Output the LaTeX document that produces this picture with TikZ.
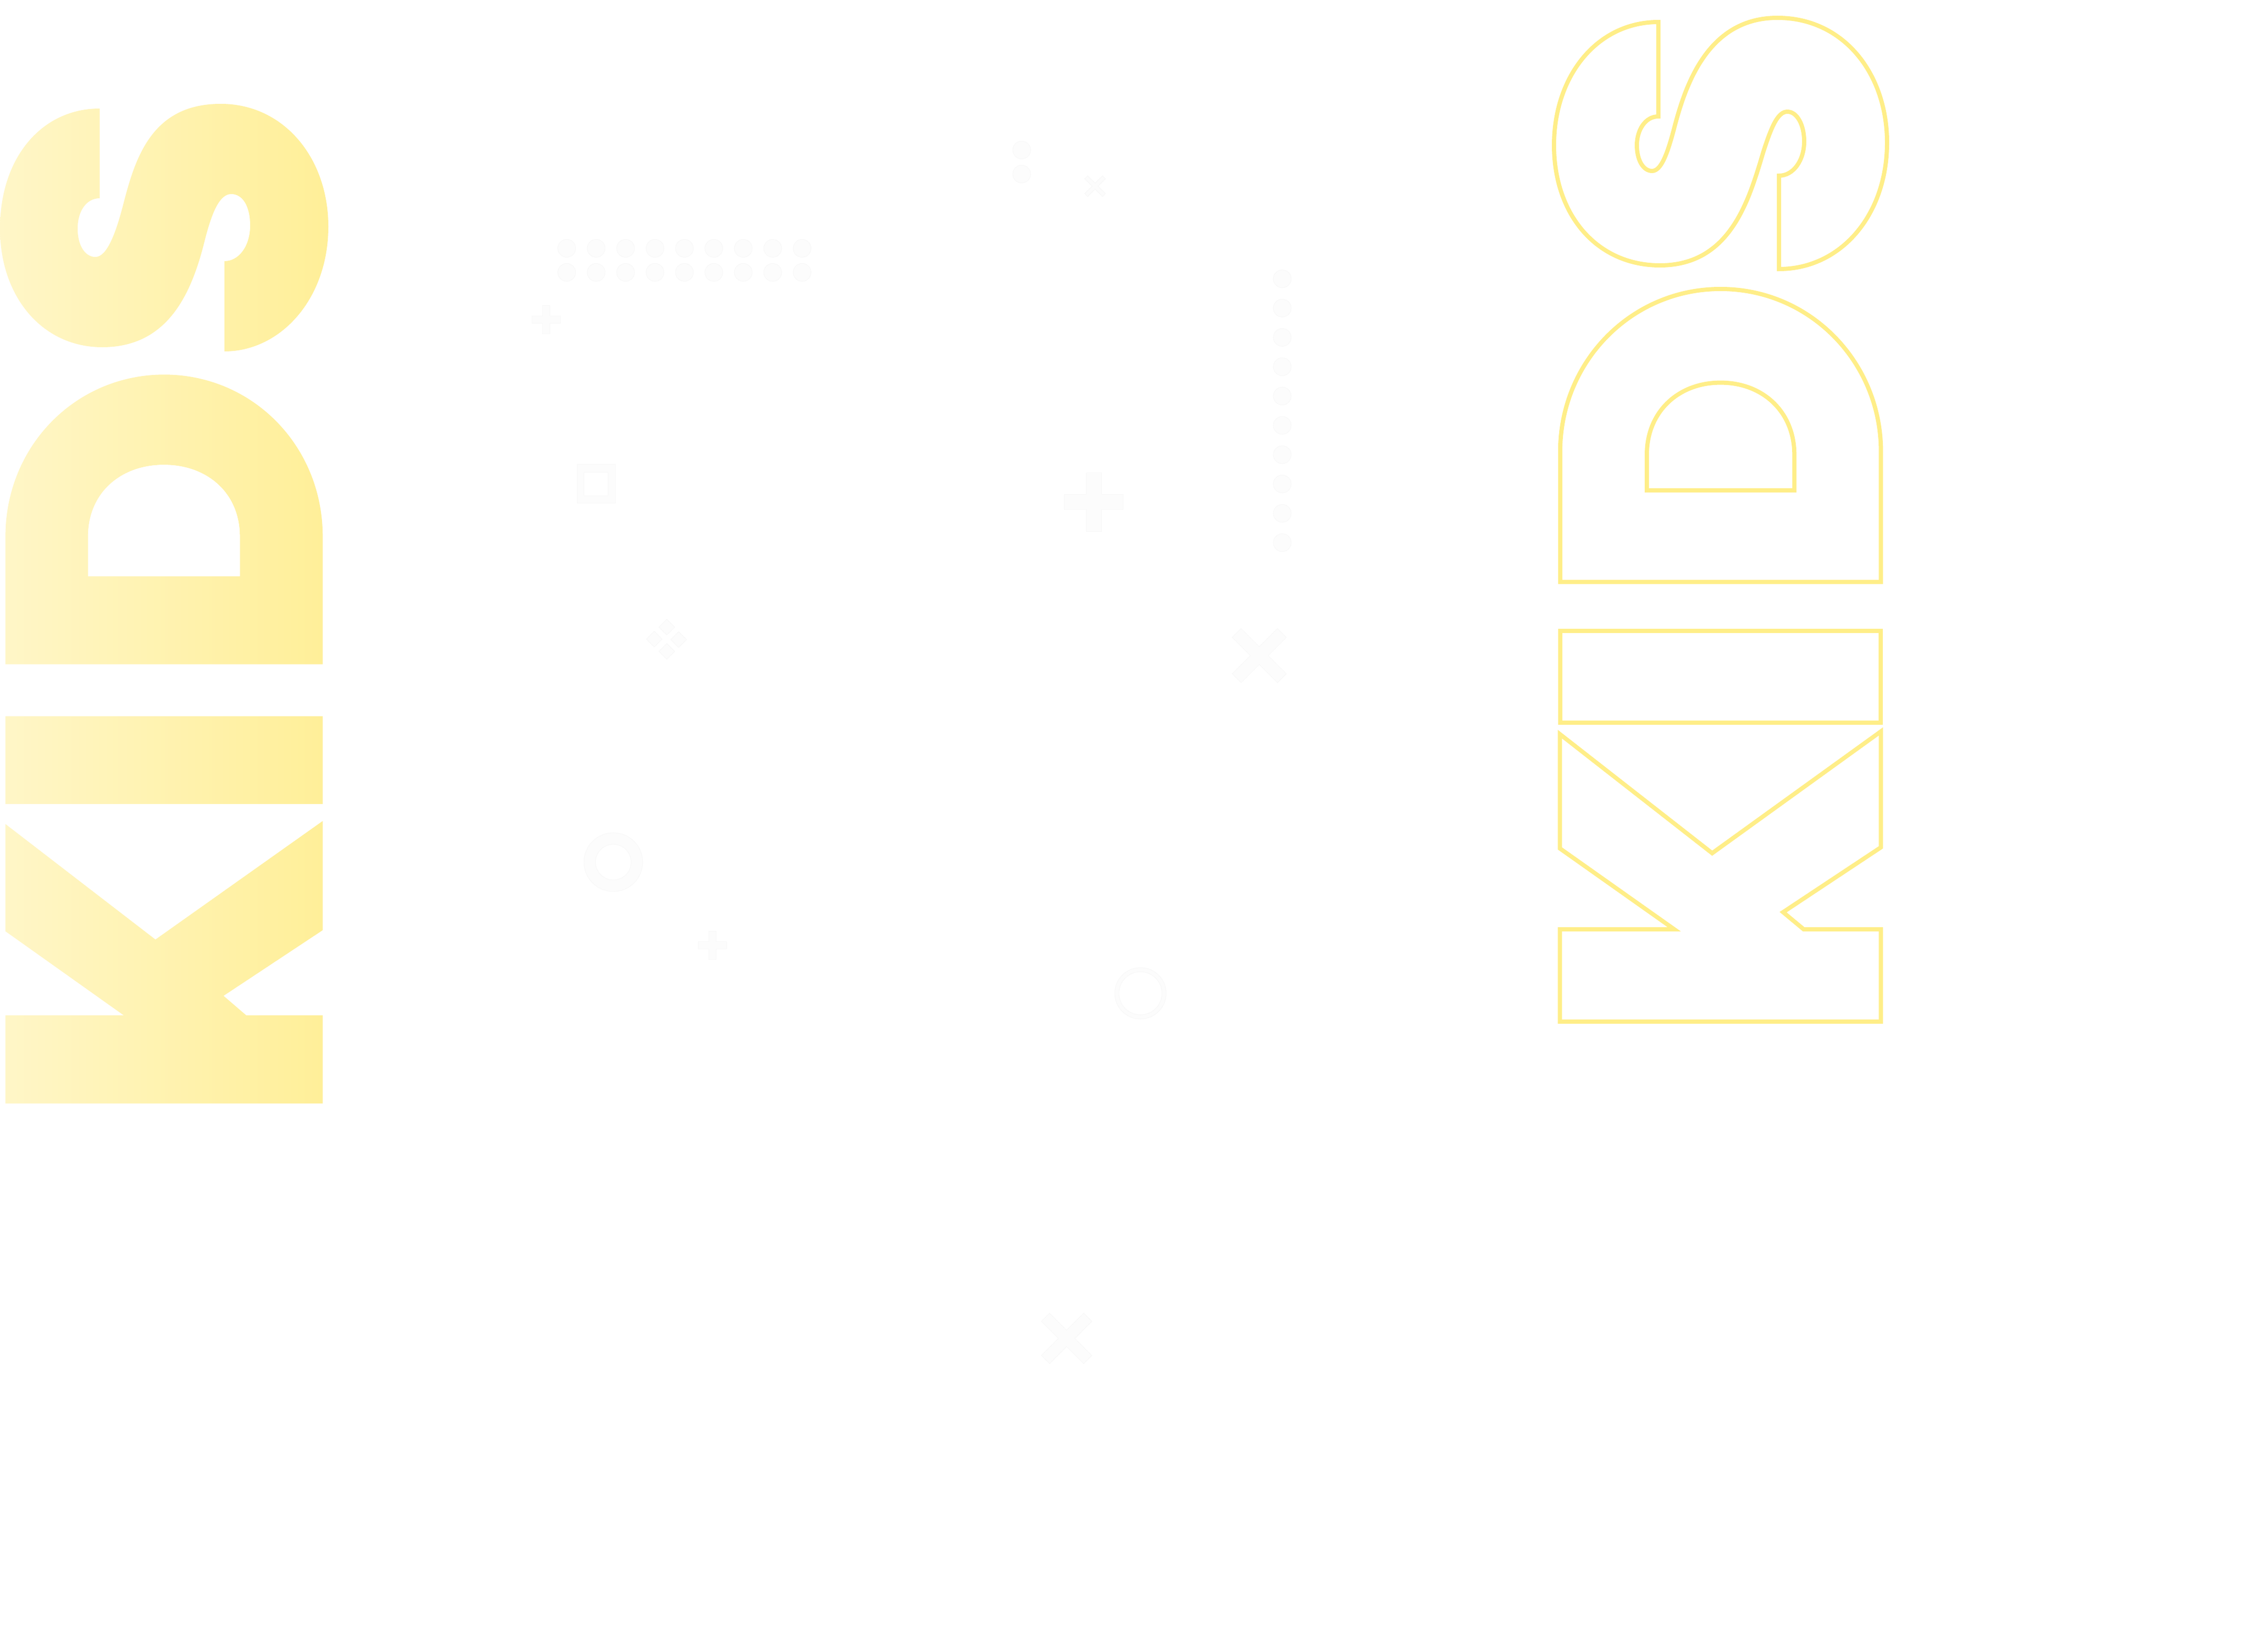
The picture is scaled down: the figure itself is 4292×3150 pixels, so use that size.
\documentclass[tikz,border=0pt]{standalone}
\definecolor{kidsline}{RGB}{255,238,136}
\definecolor{kidsL}{RGB}{255,246,200}
\definecolor{kidsR}{RGB}{255,239,152}
\definecolor{decofill}{RGB}{252,252,252}
\definecolor{decoline}{RGB}{248,248,248}
\tikzset{
  deco/.style={fill=decofill,draw=decoline,line width=1pt},
  outline/.style={draw=kidsline,line width=8pt,line join=miter},
}
% cross / plus mark: centre x, centre y, half length, half width, rotation
\newcommand\kidscross[5]{%
  \filldraw[deco,shift={(#1,#2)},rotate=#5]
    (-#4,-#3) -- (#4,-#3) -- (#4,-#4) -- (#3,-#4) -- (#3,#4) -- (#4,#4) --
    (#4,#3) -- (-#4,#3) -- (-#4,#4) -- (-#3,#4) -- (-#3,-#4) -- (-#4,-#4) -- cycle;}
\begin{document}
\begin{tikzpicture}[x=1pt,y=-1pt]
\useasboundingbox (0,0) rectangle (4292,3150);
\fill[white] (0,0) rectangle (4292,3150);

% ---------------- left KIDS, filled with a gradient ----------------
\shade[left color=kidsL,right color=kidsR,even odd rule]
  % S
  (190,207) -- (190,378)
  .. controls (165,378) and (148,402) .. (148,436)
  .. controls (148,468) and (162,490) .. (182,490)
  .. controls (205,490) and (222,440) .. (235,390)
  .. controls (258,300) and (290,198) .. (421,198)
  .. controls (540,198) and (626,300) .. (626,432)
  .. controls (626,570) and (535,670) .. (428,670)
  -- (428,498)
  .. controls (455,498) and (477,470) .. (477,430)
  .. controls (477,392) and (462,370) .. (441,370)
  .. controls (420,370) and (405,400) .. (390,460)
  .. controls (365,560) and (320,662) .. (195,662)
  .. controls (80,662) and (0,565) .. (0,436)
  .. controls (0,300) and (80,207) .. (190,207) -- cycle
  % D
  (10.4,1266.5) -- (10.4,1023)
  .. controls (10.4,850) and (145,714.3) .. (313,714.3)
  .. controls (481,714.3) and (615.3,850) .. (615.3,1023)
  -- (615.3,1266.5) -- cycle
  (167.9,1098.6) -- (167.9,1023)
  .. controls (167.9,940) and (230,886.3) .. (312.6,886.3)
  .. controls (395,886.3) and (457.3,940) .. (457.3,1023)
  -- (457.3,1098.6) -- cycle
  % I
  (10.4,1365.6) rectangle (615.3,1533.2)
  % K
  (10.4,1571.3) -- (296.4,1791.5) -- (615.3,1565.5) -- (615.3,1773.6)
  -- (426.2,1898.8) -- (469.7,1936.2) -- (615.3,1936.2) -- (615.3,2104)
  -- (10.4,2104) -- (10.4,1936.2) -- (236.3,1936.2) -- (10.4,1775.7) -- cycle;
\fill[white]
  (167.9,1098.6) -- (167.9,1023)
  .. controls (167.9,940) and (230,886.3) .. (312.6,886.3)
  .. controls (395,886.3) and (457.3,940) .. (457.3,1023)
  -- (457.3,1098.6) -- cycle;

% ---------------- right KIDS, outlined ----------------
% S
\draw[outline]
  (3162,42) -- (3162,222)
  .. controls (3137,222) and (3121,248) .. (3121,277)
  .. controls (3121,305) and (3133,326) .. (3150,326)
  .. controls (3168,326) and (3180,290) .. (3192,245)
  .. controls (3215,155) and (3260,34) .. (3389,34)
  .. controls (3515,34) and (3598,140) .. (3598,272)
  .. controls (3598,410) and (3510,513) .. (3392,513)
  -- (3392,335)
  .. controls (3420,335) and (3440,305) .. (3440,270)
  .. controls (3440,237) and (3426,213) .. (3408,213)
  .. controls (3390,213) and (3378,240) .. (3362,290)
  .. controls (3335,380) and (3300,506) .. (3165,506)
  .. controls (3045,506) and (2963,410) .. (2963,277)
  .. controls (2963,145) and (3045,42) .. (3162,42) -- cycle;
% D
\draw[outline]
  (2974.8,1109.7) -- (2974.8,861)
  .. controls (2974.8,690) and (3110,551) .. (3280.6,551)
  .. controls (3451,551) and (3586.4,690) .. (3586.4,861)
  -- (3586.4,1109.7) -- cycle;
\draw[outline]
  (3140,935) -- (3140,867)
  .. controls (3140,785) and (3200,729.6) .. (3280.6,729.6)
  .. controls (3361,729.6) and (3421.3,785) .. (3421.3,867)
  -- (3421.3,935) -- cycle;
% I
\draw[outline] (2974.8,1202.8) rectangle (3586.4,1377.7);
% K
\draw[outline]
  (2974.4,1400) -- (3264.6,1626.8) -- (3586.4,1394.6) -- (3586.4,1615.6)
  -- (3399.8,1739.3) -- (3439,1771.9) -- (3586.4,1771.9) -- (3586.4,1948.2)
  -- (2974.4,1948.2) -- (2974.4,1771.9) -- (3192.2,1771.9) -- (2974.4,1617.9) -- cycle;

% ---------------- faint decorations ----------------
% two small circles
\filldraw[deco] (1948,286) circle[radius=17];
\filldraw[deco] (1948,332) circle[radius=17];
% small x
\kidscross{2088}{355}{24}{4}{45}
% dot grid 9 x 2
\foreach \i in {0,...,8}{
  \filldraw[deco] ({1080.6+56.1*\i},473.5) circle[radius=17];
  \filldraw[deco] ({1080.6+56.1*\i},519.4) circle[radius=17];
}
% small plus
\kidscross{1041.8}{609.7}{27}{7}{0}
% rectangular frame
\filldraw[deco,even odd rule] (1100,885) rectangle (1173.5,959.4)
  (1113,900.5) rectangle (1159,945);
% large plus
\kidscross{2085.5}{957.3}{56}{14.5}{0}
% dot column
\foreach \j in {0,...,9}{
  \filldraw[deco] (2444.9,{531.6+55.9*\j}) circle[radius=17];
}
% diamond cluster
\foreach \cx/\cy in {1271.4/1195.7,1247.5/1218.6,1293.9/1219.6,1271.4/1242.1}{
  \filldraw[deco] (\cx,\cy-15) -- (\cx+15,\cy) -- (\cx,\cy+15) -- (\cx-15,\cy) -- cycle;
}
% big x
\kidscross{2401}{1250}{61}{12}{45}
% ring
\filldraw[deco,even odd rule] (1169.4,1643.9) circle[radius=56] (1169.4,1643.9) circle[radius=34];
% small plus lower
\kidscross{1358.2}{1802}{27}{7}{0}
% thin ring
\filldraw[deco,even odd rule] (2174.5,1894) circle[radius=49] (2174.5,1894) circle[radius=41];
% lower x
\kidscross{2033.7}{2552}{57}{11}{45}
\end{tikzpicture}
\end{document}
